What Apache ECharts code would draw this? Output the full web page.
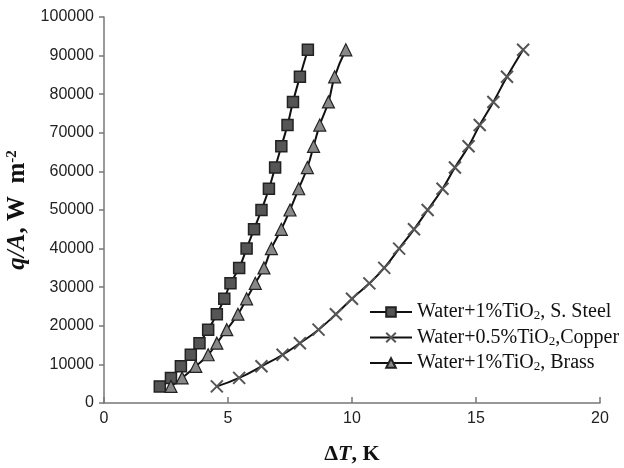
<!DOCTYPE html>
<html>
<head>
<meta charset="utf-8">
<script src="https://cdn.jsdelivr.net/npm/echarts@6/dist/echarts.min.js"></script>
<style>
  html, body { margin: 0; padding: 0; background: #fff; }
  #chart { width: 624px; height: 468px; }
</style>
</head>
<body>
<div id="chart"></div>
<script>
// Heat flux (W m^-2) shared by all three runs
const heatFlux = [4300, 6500, 9500, 12500, 15500, 19000, 23000, 27000, 31000, 35000,
                  40000, 45000, 50000, 55500, 61000, 66500, 72000, 78000, 84500, 91500];

// Wall superheat ΔT (K) for each surface
const dtSteel  = [2.25, 2.7, 3.1, 3.5, 3.85, 4.2, 4.55, 4.85, 5.1, 5.45,
                  5.75, 6.05, 6.35, 6.65, 6.9, 7.15, 7.4, 7.62, 7.9, 8.22];
const dtCopper = [4.55, 5.45, 6.35, 7.2, 7.9, 8.65, 9.35, 10.0, 10.7, 11.3,
                  11.9, 12.5, 13.05, 13.65, 14.15, 14.7, 15.15, 15.7, 16.25, 16.9];
const dtBrass  = [2.7, 3.15, 3.7, 4.2, 4.55, 4.95, 5.4, 5.75, 6.1, 6.45,
                  6.75, 7.15, 7.5, 7.85, 8.2, 8.45, 8.7, 9.05, 9.3, 9.75];

const seriesNames = ['Water+1%TiO2, S. Steel', 'Water+0.5%TiO2,Copper', 'Water+1%TiO2, Brass'];
const xTicks = { min: 0, max: 20, interval: 5 };
const yTicks = { min: 0, max: 100000, interval: 10000 };

const pair = (xs, ys) => xs.map((x, i) => [x, ys[i]]);

const chart = echarts.init(document.getElementById('chart'));
const tickFont = { fontFamily: 'Liberation Sans', fontSize: 16, color: '#222' };

chart.setOption({
  animation: false,
  backgroundColor: '#fff',
  grid: { left: 104, right: 24, top: 17, bottom: 65, containLabel: false, outerBoundsMode: 'none' },
  xAxis: {
    type: 'value',
    min: xTicks.min, max: xTicks.max, interval: xTicks.interval,
    axisLine: { lineStyle: { color: '#777', width: 1.5 } },
    axisTick: { inside: true, length: 6, lineStyle: { color: '#777', width: 1.5 } },
    axisLabel: Object.assign({ margin: 8, formatter: (v) => String(v) }, tickFont),
    splitLine: { show: false },
    name: '{d|Δ}{i|T}{d|, K}',
    nameLocation: 'middle',
    nameGap: 40,
    nameTextStyle: {
      rich: {
        d: { fontFamily: 'Liberation Serif', fontWeight: 'bold', fontSize: 22, color: '#111' },
        i: { fontFamily: 'Liberation Serif', fontWeight: 'bold', fontStyle: 'italic', fontSize: 22, color: '#111' }
      }
    }
  },
  yAxis: {
    type: 'value',
    min: yTicks.min, max: yTicks.max, interval: yTicks.interval,
    axisLine: { show: true, lineStyle: { color: '#777', width: 1.5 } },
    axisTick: { show: true, inside: false, length: 5, lineStyle: { color: '#777', width: 1.5 } },
    axisLabel: Object.assign({ margin: 10, formatter: (v) => String(v) }, tickFont),
    splitLine: { show: false },
    name: '{i|q/A}{d|, W  m}{s|-2}',
    nameLocation: 'middle',
    nameRotate: 90,
    nameGap: 58,
    nameTextStyle: {
      rich: {
        d: { fontFamily: 'Liberation Serif', fontWeight: 'bold', fontSize: 25, color: '#111' },
        i: { fontFamily: 'Liberation Serif', fontWeight: 'bold', fontStyle: 'italic', fontSize: 25, color: '#111' },
        s: { fontFamily: 'Liberation Serif', fontWeight: 'bold', fontSize: 15, color: '#111', verticalAlign: 'top', padding: [0, 0, 11, 0] }
      }
    }
  },
  legend: {
    orient: 'vertical',
    left: 364, top: 297,
    itemWidth: 42, itemHeight: 12, itemGap: 5,
    data: seriesNames,
    formatter: (name) => name.replace('TiO2', 'TiO{sub|2}'),
    textStyle: {
      fontFamily: 'Liberation Serif', fontSize: 20, color: '#111',
      rich: {
        sub: { fontFamily: 'Liberation Serif', fontSize: 13, color: '#111', verticalAlign: 'bottom', padding: [8, 0, 0, 0] }
      }
    }
  },
  series: [
    {
      name: seriesNames[0], type: 'line', smooth: true,
      data: pair(dtSteel, heatFlux),
      symbol: 'rect', symbolSize: 11,
      lineStyle: { color: '#111', width: 2 },
      itemStyle: { color: '#555', borderColor: '#222', borderWidth: 1.5 }
    },
    {
      name: seriesNames[1], type: 'line', smooth: true,
      data: pair(dtCopper, heatFlux),
      symbol: 'path://M0,0L10,10M10,0L0,10', symbolSize: 12,
      lineStyle: { color: '#111', width: 2 },
      itemStyle: { color: '#666', borderColor: '#555', borderWidth: 2 }
    },
    {
      name: seriesNames[2], type: 'line', smooth: true,
      data: pair(dtBrass, heatFlux),
      symbol: 'triangle', symbolSize: 12,
      lineStyle: { color: '#111', width: 2 },
      itemStyle: { color: '#888', borderColor: '#222', borderWidth: 1.2 }
    }
  ]
});
</script>
</body>
</html>
